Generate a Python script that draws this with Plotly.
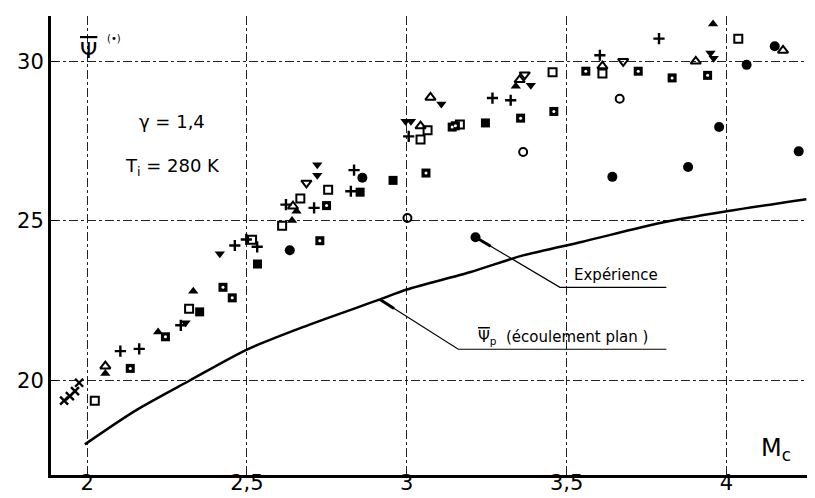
import plotly.graph_objects as go

# ---- data ----
curve_x = [1.993, 2.15, 2.321, 2.5, 2.69, 2.916, 3.0, 3.2, 3.364, 3.55, 3.80, 4.0, 4.25]
curve_y = [18.0, 19.05, 20.0, 20.97, 21.73, 22.54, 22.85, 23.40, 23.92, 24.35, 24.95, 25.30, 25.68]

xcross_x = [1.928, 1.946, 1.962, 1.975]
xcross_y = [19.37, 19.51, 19.67, 19.93]

plus_x = [2.104, 2.163, 2.293, 2.462, 2.498, 2.532, 2.622, 2.710, 2.835, 2.825, 3.006, 3.268, 3.325, 3.604, 3.789]
plus_y = [20.92, 20.99, 21.73, 24.23, 24.42, 24.19, 25.51, 25.41, 26.59, 25.93, 27.65, 28.85, 28.78, 30.19, 30.71]

triup_f_x = [2.057, 2.222, 2.332, 2.641, 2.655, 3.341, 3.958]
triup_f_y = [20.22, 21.52, 22.80, 25.01, 25.30, 29.22, 31.17]

triup_o_x = [2.057, 2.644, 3.043, 3.074, 3.353, 3.612, 3.904, 4.177]
triup_o_y = [20.45, 25.46, 27.97, 28.87, 29.42, 29.85, 30.00, 30.34]

tridn_f_x = [2.308, 2.415, 2.720, 2.720, 2.996, 3.013, 3.108, 3.388, 3.950, 3.960]
tridn_f_y = [21.81, 23.97, 26.76, 26.43, 28.12, 28.12, 28.66, 29.25, 30.26, 30.10]

tridn_o_x = [2.686, 3.369, 3.677]
tridn_o_y = [26.19, 29.58, 30.00]

sq_o_x = [2.024, 2.319, 2.516, 2.610, 2.667, 2.754, 3.043, 3.065, 3.166, 3.456, 3.612, 4.037]
sq_o_y = [19.37, 22.25, 24.41, 24.85, 25.70, 25.98, 27.55, 27.84, 28.02, 29.66, 29.62, 30.71]

sq_f_x = [2.352, 2.533, 2.854, 2.957, 3.246]
sq_f_y = [22.15, 23.65, 25.90, 26.27, 28.07]

sq_dot_x = [2.135, 2.245, 2.425, 2.454, 2.749, 2.728, 3.060, 3.142, 3.152, 3.356, 3.460, 3.560, 3.724, 3.830, 3.941]
sq_dot_y = [20.38, 21.37, 22.92, 22.59, 25.48, 24.38, 26.50, 27.94, 27.98, 28.22, 28.43, 29.69, 29.69, 29.48, 29.56]

circ_o_x = [3.002, 3.364, 3.666]
circ_o_y = [25.09, 27.16, 28.83]

circ_f_x = [2.634, 2.861, 3.215, 3.643, 3.880, 3.977, 4.063, 4.151, 4.226]
circ_f_y = [24.08, 26.35, 24.49, 26.38, 26.69, 27.94, 29.89, 30.47, 27.18]

x_ticks = [2, 2.5, 3, 3.5, 4]
x_tick_labels = ["2", "2,5", "3", "3,5", "4"]
y_ticks = [20, 25, 30]
y_tick_labels = ["20", "25", "30"]

# leader lines: (tip on the curve / point, knee, end of underline)
exp_leader_x = [3.215, 3.479, 3.812]
exp_leader_y = [24.49, 22.92, 22.92]
plan_leader_x = [2.916, 3.161, 3.812]
plan_leader_y = [22.54, 20.98, 20.98]

FONT = "DejaVu Sans"
K = "black"

fig = go.Figure()

fig.add_trace(go.Scatter(x=curve_x, y=curve_y, mode="lines",
                         line=dict(color=K, width=2.5, shape="spline", smoothing=0.8)))

def pts(x, y, symbol, size, lw=0, color=K):
    fig.add_trace(go.Scatter(x=x, y=y, mode="markers",
                             marker=dict(symbol=symbol, size=size, color=color,
                                         line=dict(color=K, width=lw))))

pts(xcross_x, xcross_y, "x-thin", 8, 2.4)
pts(plus_x, plus_y, "cross-thin", 8, 2.4)
pts(triup_f_x, triup_f_y, "triangle-up", 9)
pts(triup_o_x, triup_o_y, "triangle-up-open", 9, 2)
pts(tridn_f_x, tridn_f_y, "triangle-down", 9)
pts(tridn_o_x, tridn_o_y, "triangle-down-open", 9, 2)
pts(sq_o_x, sq_o_y, "square-open", 8, 2)
pts(sq_f_x, sq_f_y, "square", 9)
pts(sq_dot_x, sq_dot_y, "square", 9)
pts(sq_dot_x, sq_dot_y, "circle", 3, 0, "white")
pts(circ_o_x, circ_o_y, "circle-open", 8, 2)
pts(circ_f_x, circ_f_y, "circle", 10)

# leader lines (thin polyline + thickened stub near the tip)
for lx, ly in ((exp_leader_x, exp_leader_y), (plan_leader_x, plan_leader_y)):
    fig.add_trace(go.Scatter(x=lx, y=ly, mode="lines", line=dict(color=K, width=1.2)))
    sx = [lx[0], lx[0] + 0.18 * (lx[1] - lx[0])]
    sy = [ly[0], ly[0] + 0.18 * (ly[1] - ly[0])]
    fig.add_trace(go.Scatter(x=sx, y=sy, mode="lines", line=dict(color=K, width=3)))

fig.add_annotation(x=3.655, y=22.95, text="Expérience", showarrow=False, yanchor="bottom",
                   font=dict(family=FONT, size=15, color=K))
fig.add_annotation(x=3.49, y=21.0,
                   text="<span style='text-decoration:overline'>Ψ</span><sub>p</sub>  (écoulement plan )",
                   showarrow=False, yanchor="bottom", font=dict(family=FONT, size=15, color=K))

fig.add_annotation(x=2.003, y=30.35, text="<span style='text-decoration:overline'>Ψ</span>",
                   showarrow=False, font=dict(family=FONT, size=22, color=K))
fig.add_annotation(x=2.084, y=30.72, text="(•)", showarrow=False,
                   font=dict(family=FONT, size=10, color=K))
fig.add_annotation(x=2.266, y=28.10, text="γ = 1,4", showarrow=False,
                   font=dict(family=FONT, size=18, color=K))
fig.add_annotation(x=2.266, y=26.69, text="T<sub>i</sub> = 280 K", showarrow=False,
                   font=dict(family=FONT, size=18, color=K))
fig.add_annotation(x=4.155, y=17.83, text="M<sub>c</sub>", showarrow=False,
                   font=dict(family=FONT, size=24, color=K))

fig.update_layout(
    width=815, height=498,
    margin=dict(l=43, r=0, t=8, b=31),
    paper_bgcolor="white", plot_bgcolor="white",
    showlegend=False,
    font=dict(family=FONT, color=K),
)
fig.update_xaxes(range=[1.887, 4.302], tickvals=x_ticks, ticktext=x_tick_labels,
                 showgrid=True, gridcolor="#222", gridwidth=1, griddash="dashdot",
                 showline=True, linecolor=K, linewidth=3, ticks="", zeroline=False,
                 ticklabelstandoff=-13,
                 tickfont=dict(family=FONT, size=21, color=K))
fig.update_yaxes(range=[17.04, 31.42], tickvals=y_ticks, ticktext=y_tick_labels,
                 showgrid=True, gridcolor="#222", gridwidth=1, griddash="dashdot",
                 showline=True, linecolor=K, linewidth=3, ticks="inside", ticklen=6,
                 tickcolor=K, zeroline=False,
                 tickfont=dict(family=FONT, size=21, color=K))

fig.write_html("out.html")
